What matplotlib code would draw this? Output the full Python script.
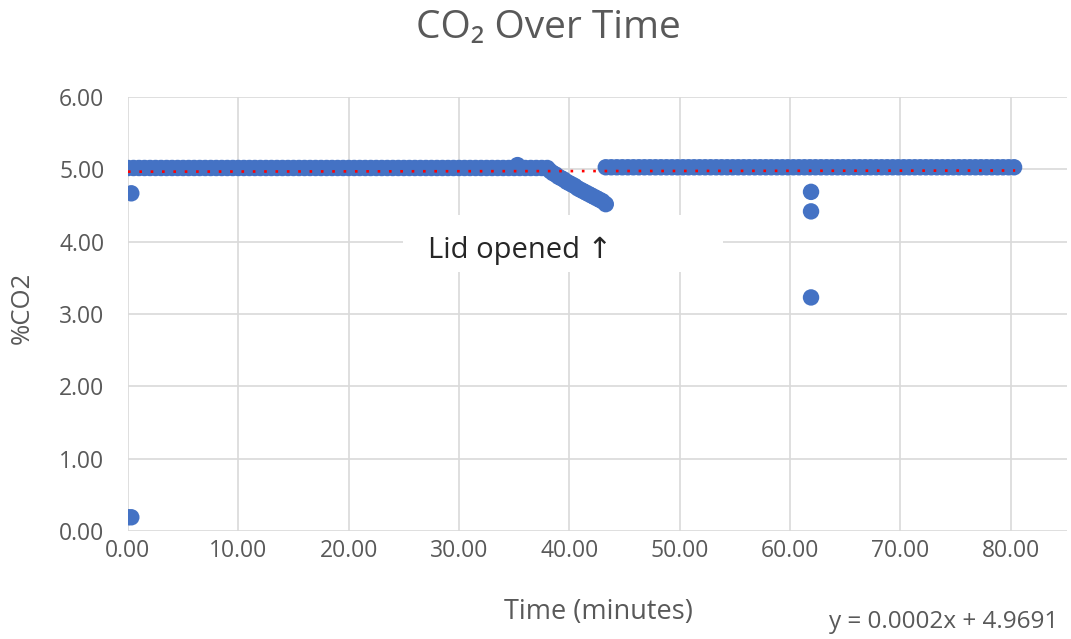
import numpy as np
import matplotlib
matplotlib.use("Agg")
import matplotlib.pyplot as plt
from matplotlib.patches import Rectangle

plt.rcParams['font.family'] = ['Open Sans', 'DejaVu Sans']

# readings logged every half minute; flat stretches read as one level
sample_step = 0.5
plateau1_start, plateau1_end, plateau1_level = 0.0, 38.0, 5.02
plateau2_start, plateau2_end, plateau2_level = 43.3, 80.3, 5.03

start_time = [0.0, 0.3, 0.3]
start_co2 = [0.19, 0.19, 4.67]

bump_time = [35.3]
bump_co2 = [5.06]

decline_time = [38.25, 38.5, 38.75, 39.0, 39.25, 39.5, 39.75, 40.0, 40.25, 40.5, 40.75,
                41.0, 41.25, 41.5, 41.75, 42.0, 42.25, 42.5, 42.75, 43.0, 43.3]
decline_co2 = [4.98, 4.95, 4.93, 4.90, 4.88, 4.86, 4.83, 4.81, 4.79, 4.77, 4.74,
               4.72, 4.70, 4.68, 4.66, 4.64, 4.62, 4.60, 4.58, 4.56, 4.52]

outlier_time = [61.9, 61.9, 61.9]
outlier_co2 = [4.69, 4.42, 3.23]

trend_slope, trend_intercept = 0.0002, 4.9691
trend_range = [0.0, 80.4]

x_ticks = [0, 10, 20, 30, 40, 50, 60, 70, 80]
y_ticks = [0, 1, 2, 3, 4, 5, 6]

t1 = np.arange(plateau1_start, plateau1_end + 0.01, sample_step)
t2 = np.arange(plateau2_start, plateau2_end + 0.01, sample_step)
times = np.concatenate([start_time, t1, bump_time, decline_time, t2, outlier_time])
co2 = np.concatenate([start_co2, [plateau1_level] * len(t1), bump_co2, decline_co2,
                      [plateau2_level] * len(t2), outlier_co2])

fig = plt.figure(figsize=(10.71, 6.39), dpi=100)
ax = fig.add_axes([0.1195, 0.169, 0.8768, 0.679])

blue = "#4472C4"
grey = "#595959"

ax.scatter(times, co2, s=140, color=blue, edgecolors="none", zorder=3)

tx = np.array(trend_range)
ax.plot(tx, trend_slope * tx + trend_intercept, color="#FF0000", lw=1.9,
        linestyle=(0, (1, 3.3)), zorder=4)

ax.set_xlim(0, 85.1)
ax.set_ylim(0, 6)
ax.set_xticks(x_ticks)
ax.set_yticks(y_ticks)
ax.set_xticklabels([f"{v:.2f}" for v in x_ticks])
ax.set_yticklabels([f"{v:.2f}" for v in y_ticks])
ax.tick_params(axis="both", length=0, labelsize=16.5, labelcolor=grey)
ax.tick_params(axis="x", pad=6)
ax.tick_params(axis="y", pad=17)
ax.grid(True, color="#D9D9D9", lw=1.2)
ax.set_axisbelow(True)
for s in ax.spines.values():
    s.set_visible(False)

ax.set_xlabel("Time (minutes)", fontsize=19.5, color=grey, va="center")
ax.xaxis.set_label_coords(0.5005, -0.187)
ax.set_ylabel("%CO2", fontsize=18.5, color=grey, va="center")
ax.yaxis.set_label_coords(-0.113, 0.514)

fig.text(0.512, 0.956, "CO\u2082 Over Time", ha="center", va="center",
         fontsize=28, color=grey)

# white label box that hides the gridlines behind it
ax.add_patch(Rectangle((24.9, 3.58), 29.0, 0.79, facecolor="white",
                       edgecolor="none", zorder=2))
ax.text(35.5, 3.88, "Lid opened \u2191", ha="center", va="center", fontsize=21,
        color="#262626", zorder=5)

fig.text(0.881, 0.026, "y = 0.0002x + 4.9691", ha="center", va="center",
         fontsize=17.5, color=grey)

fig.savefig("out.png", dpi=100)
